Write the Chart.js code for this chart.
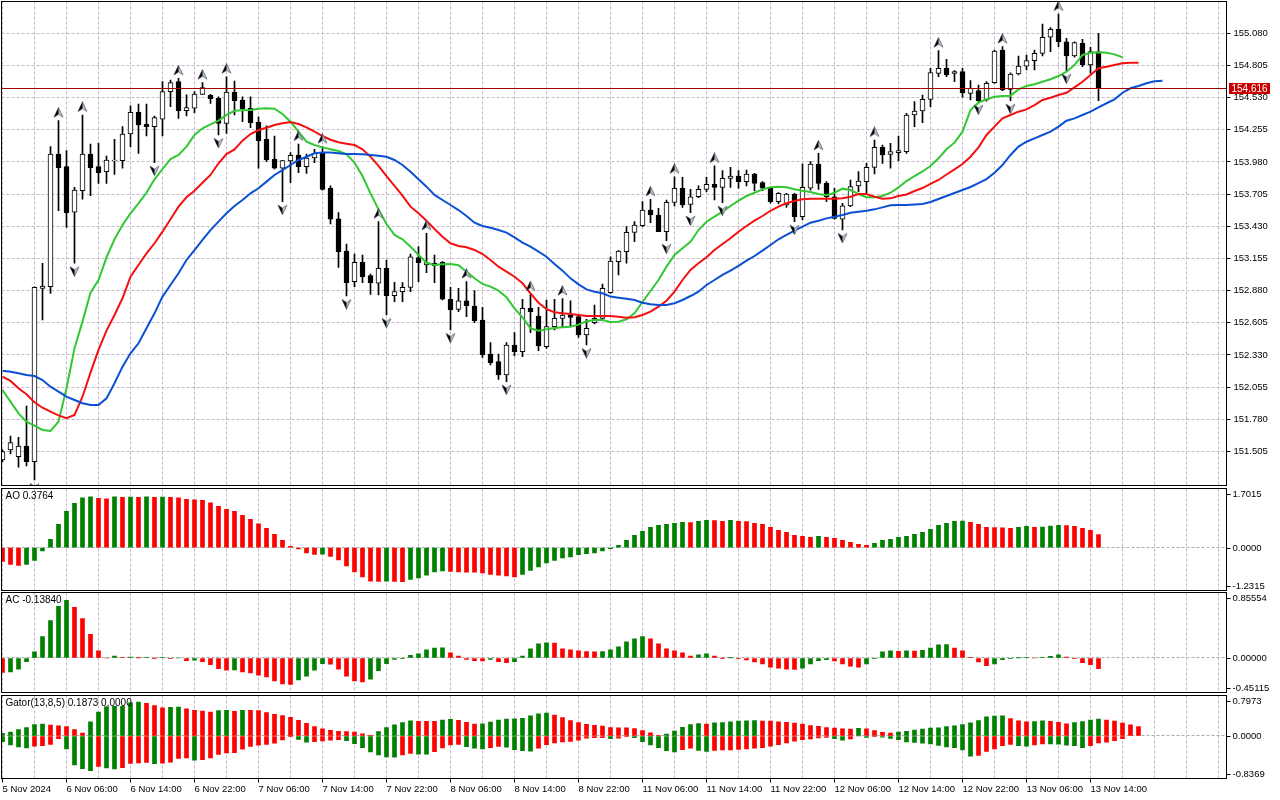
<!DOCTYPE html>
<html>
<head>
<meta charset="utf-8">
<script src="https://cdn.jsdelivr.net/npm/chart.js@4.4.1/dist/chart.umd.min.js"></script>
<style>
  html, body { margin: 0; padding: 0; background: #fff; width: 1280px; height: 800px; overflow: hidden; }
  canvas { position: absolute; left: 0; }
</style>
</head>
<body>
<canvas id="mainChart" width="1280" height="487" style="top:0px"></canvas>
<canvas id="aoChart" width="1280" height="104" style="top:487px"></canvas>
<canvas id="acChart" width="1280" height="102" style="top:591px"></canvas>
<canvas id="gatorChart" width="1280" height="107" style="top:693px"></canvas>
<script>
// H1 candles, one value per bar (bar 0 = 5 Nov 22:00)
const opens = [151.432,151.518,151.461,151.552,151.418,152.900,152.914,154.048,153.940,153.550,
153.735,154.048,153.940,153.897,153.991,153.991,154.219,154.404,154.305,154.282,
154.345,154.581,154.667,154.419,154.439,154.558,154.550,154.524,154.310,154.575,
154.510,154.439,154.319,154.174,154.003,153.926,153.988,154.040,153.940,154.014,
154.060,153.755,153.493,153.219,152.957,153.122,153.008,152.943,153.071,152.837,
152.871,152.908,153.162,153.099,153.094,153.122,152.806,152.720,152.792,152.749,
152.629,152.338,152.273,152.159,152.415,152.358,152.729,152.663,152.401,152.572,
152.643,152.672,152.658,152.501,152.606,152.643,152.863,153.128,153.213,153.378,
153.436,153.569,153.527,153.384,153.635,153.755,153.618,153.683,153.746,153.789,
153.763,153.840,153.860,153.812,153.877,153.803,153.755,153.641,153.612,153.706,
153.512,153.755,153.963,153.797,153.683,153.490,153.604,153.775,153.812,153.934,
154.105,154.045,154.060,154.068,154.382,154.416,154.515,154.738,154.781,154.738,
154.752,154.567,154.590,154.510,154.658,154.937,154.601,154.732,154.800,154.846,
154.909,155.046,155.114,155.008,154.886,154.994,154.809,154.923];
const highs = [151.518,151.637,151.626,151.894,152.912,153.114,154.111,154.333,154.077,153.763,
154.382,154.134,154.140,154.031,154.174,154.282,154.459,154.476,154.476,154.373,
154.667,154.681,154.695,154.553,154.581,154.658,154.558,154.538,154.709,154.672,
154.538,154.538,154.367,154.288,154.202,153.995,154.060,154.134,154.048,154.088,
154.111,153.775,153.547,153.279,153.193,153.185,153.022,153.470,153.142,152.951,
152.948,153.193,153.256,153.370,153.185,153.128,152.908,152.900,152.957,152.880,
152.737,152.435,152.338,152.435,152.521,152.806,152.851,152.737,152.800,152.806,
152.812,152.792,152.672,152.635,152.757,152.937,153.170,153.222,153.427,153.470,
153.641,153.661,153.584,153.655,153.854,153.849,153.746,153.775,153.849,153.946,
153.906,153.935,153.906,153.911,153.883,153.812,153.763,153.718,153.712,153.712,
153.963,153.983,154.054,153.812,153.755,153.627,153.826,153.897,153.968,154.168,
154.125,154.139,154.202,154.396,154.496,154.552,154.781,154.932,154.857,154.761,
154.781,154.675,154.638,154.667,154.937,154.966,154.743,154.886,154.894,154.937,
155.160,155.128,155.245,155.037,155.008,155.028,154.960,155.080];
const lows = [151.418,151.484,151.370,151.381,151.261,152.629,152.857,153.564,153.421,153.114,
153.661,153.692,153.797,153.797,153.874,153.926,154.111,154.054,154.202,153.974,
154.202,154.453,154.353,154.373,154.402,154.558,154.481,154.211,154.225,154.382,
154.325,154.273,153.926,153.983,153.920,153.641,153.803,153.889,153.883,153.974,
153.740,153.450,153.079,152.834,152.914,152.948,152.848,152.843,152.672,152.786,
152.786,152.871,152.957,153.034,152.948,152.800,152.544,152.700,152.658,152.606,
152.310,152.244,152.122,152.102,152.321,152.316,152.521,152.367,152.387,152.544,
152.572,152.572,152.481,152.415,152.595,152.629,152.857,153.014,153.114,153.299,
153.427,153.461,153.384,153.307,153.604,153.592,153.547,153.675,153.726,153.655,
153.632,153.763,153.755,153.775,153.735,153.735,153.627,153.621,153.592,153.470,
153.484,153.740,153.746,153.641,153.490,153.399,153.598,153.726,153.712,153.877,
153.968,153.926,153.991,154.054,154.282,154.316,154.453,154.709,154.709,154.667,
154.533,154.510,154.496,154.500,154.652,154.590,154.504,154.724,154.766,154.766,
154.886,154.923,154.966,154.761,154.875,154.795,154.738,154.504];
const closes = [151.504,151.580,151.552,151.418,152.908,152.920,154.048,153.931,153.547,153.740,
154.048,153.931,153.889,153.997,153.997,154.219,154.404,154.296,154.282,154.359,
154.581,154.658,154.419,154.444,154.561,154.615,154.521,154.310,154.578,154.504,
154.436,154.316,154.162,153.997,153.926,153.991,154.037,153.940,154.014,154.054,
153.746,153.490,153.213,152.948,153.122,153.000,152.948,153.071,152.837,152.871,
152.908,153.170,153.119,153.119,153.114,152.806,152.715,152.792,152.752,152.623,
152.330,152.264,152.159,152.415,152.358,152.729,152.700,152.407,152.572,152.643,
152.672,152.652,152.501,152.558,152.643,152.900,153.133,153.219,153.378,153.441,
153.569,153.527,153.384,153.635,153.755,153.612,153.683,153.746,153.789,153.763,
153.840,153.860,153.812,153.877,153.797,153.755,153.641,153.712,153.706,153.512,
153.763,153.963,153.797,153.683,153.498,153.604,153.769,153.817,153.934,154.105,
154.040,154.068,154.077,154.382,154.416,154.515,154.744,154.781,154.724,154.752,
154.573,154.610,154.504,154.652,154.929,154.595,154.732,154.800,154.846,154.909,
155.046,155.114,155.008,154.886,155.000,154.809,154.923,154.616];

// Alligator lines (already shifted forward: jaw +8, teeth +5, lips +3 bars)
const jaw = [152.196,152.187,152.173,152.159,152.150,152.116,152.059,152.016,151.974,151.945,
151.917,151.902,151.902,151.959,152.088,152.230,152.344,152.430,152.558,152.686,
152.829,152.928,153.028,153.142,153.227,153.313,153.398,153.470,153.541,153.604,
153.655,153.712,153.755,153.812,153.869,153.911,153.954,153.997,154.025,154.054,
154.060,154.060,154.054,154.048,154.048,154.045,154.040,154.034,154.025,153.997,
153.954,153.897,153.832,153.769,153.698,153.655,153.612,153.569,153.518,153.461,
153.433,153.418,153.398,153.376,153.336,153.290,153.256,153.213,153.170,153.108,
153.051,152.985,152.934,152.891,152.871,152.857,152.829,152.820,152.811,152.800,
152.777,152.763,152.757,152.757,152.772,152.800,152.834,152.871,152.928,152.971,
153.014,153.051,153.091,153.136,153.176,153.222,153.270,153.319,153.356,153.393,
153.427,153.461,153.478,153.498,153.512,153.527,153.546,153.555,153.563,153.575,
153.592,153.610,153.612,153.612,153.616,153.621,153.638,153.663,153.689,153.715,
153.740,153.766,153.800,153.834,153.888,153.954,154.040,154.111,154.153,154.182,
154.211,154.239,154.282,154.333,154.353,154.382,154.410,154.447,154.482,154.516,
154.572,154.610,154.630,154.653,154.670,154.675];
const teeth = [152.144,152.108,152.045,151.994,151.926,151.879,151.845,151.814,151.789,151.817,
151.973,152.179,152.373,152.538,152.672,152.815,152.999,153.099,153.199,153.285,
153.384,153.490,153.598,153.678,153.734,153.803,153.869,153.969,154.048,154.088,
154.162,154.219,154.253,154.273,154.296,154.311,154.322,154.305,154.276,154.239,
154.202,154.170,154.148,154.136,154.125,154.088,154.025,153.946,153.860,153.775,
153.692,153.598,153.541,153.478,153.407,153.341,153.285,153.262,153.251,153.228,
153.193,153.142,153.085,153.042,152.999,152.943,152.857,152.777,152.721,152.695,
152.686,152.680,152.672,152.663,152.663,152.663,152.663,152.657,152.649,152.652,
152.672,152.700,152.743,152.794,152.871,152.971,153.057,153.114,153.165,153.228,
153.279,153.328,153.384,153.433,153.478,153.518,153.563,153.598,153.627,153.646,
153.661,153.666,153.666,153.666,153.666,153.669,153.683,153.706,153.706,153.683,
153.666,153.669,153.689,153.702,153.732,153.757,153.792,153.826,153.873,153.917,
153.963,154.025,154.105,154.211,154.282,154.353,154.382,154.410,154.430,154.467,
154.510,154.529,154.553,154.572,154.618,154.666,154.723,154.781,154.794,154.809,
154.824,154.829,154.829];
const lips = [152.031,151.931,151.831,151.760,151.726,151.689,151.680,151.760,152.045,152.387,
152.615,152.862,152.971,153.165,153.319,153.441,153.541,153.627,153.717,153.832,
153.920,154.005,154.040,154.111,154.211,154.268,154.302,154.333,154.382,154.418,
154.422,154.424,154.435,154.439,154.435,154.390,154.324,154.239,154.153,154.125,
154.105,154.088,154.074,154.046,153.974,153.860,153.712,153.575,153.450,153.356,
153.319,153.256,153.185,153.119,153.099,153.105,153.108,153.097,153.042,152.986,
152.937,152.914,152.880,152.823,152.729,152.652,152.558,152.538,152.550,152.561,
152.567,152.572,152.589,152.618,152.629,152.629,152.612,152.615,152.635,152.686,
152.783,152.877,152.971,153.085,153.185,153.242,153.298,153.398,153.469,153.512,
153.555,153.604,153.649,153.689,153.717,153.746,153.763,153.769,153.763,153.746,
153.734,153.723,153.706,153.695,153.717,153.752,153.740,153.706,153.678,153.678,
153.689,153.717,153.763,153.817,153.860,153.899,153.946,154.011,154.088,154.145,
154.239,154.424,154.487,154.516,154.538,154.544,154.547,154.601,154.630,154.644,
154.666,154.687,154.715,154.752,154.809,154.895,154.914,154.918,154.914,154.900,
154.875];

// Bill Williams fractals (bar numbers)
const fractalUp = [7,10,22,25,28,37,40,47,53,58,66,70,81,84,89,102,109,117,125,132];
const fractalDown = [4,9,19,27,35,43,48,56,63,73,83,86,90,99,105,122,126,133];

// Awesome Oscillator
const ao = [-0.392,-0.479,-0.507,-0.479,-0.364,-0.096,0.240,0.670,1.044,1.273,
1.436,1.465,1.417,1.408,1.465,1.446,1.455,1.446,1.465,1.446,
1.455,1.446,1.436,1.389,1.379,1.359,1.293,1.188,1.102,1.044,
0.929,0.814,0.689,0.556,0.383,0.210,0.038,-0.038,-0.154,-0.191,
-0.185,-0.249,-0.355,-0.527,-0.699,-0.843,-0.962,-0.972,-0.965,-0.969,
-0.975,-0.910,-0.871,-0.794,-0.699,-0.670,-0.680,-0.699,-0.703,-0.708,
-0.728,-0.766,-0.794,-0.814,-0.843,-0.766,-0.651,-0.556,-0.441,-0.364,
-0.297,-0.268,-0.201,-0.173,-0.154,-0.096,-0.028,0.067,0.210,0.355,
0.469,0.584,0.642,0.670,0.699,0.728,0.720,0.757,0.785,0.779,
0.757,0.785,0.757,0.751,0.699,0.670,0.584,0.498,0.441,0.355,
0.325,0.297,0.325,0.297,0.268,0.210,0.154,0.096,0.067,0.124,
0.210,0.240,0.297,0.325,0.383,0.441,0.527,0.642,0.699,0.757,
0.763,0.728,0.670,0.584,0.578,0.573,0.556,0.584,0.612,0.584,
0.593,0.623,0.642,0.637,0.612,0.556,0.498,0.3764];

// Accelerator Oscillator
const ac = [-0.190,-0.181,-0.145,-0.048,0.079,0.278,0.489,0.674,0.753,0.661,
0.515,0.308,0.093,0.000,0.026,0.005,0.013,0.002,0.010,-0.003,
0.003,-0.004,0.000,-0.035,-0.030,-0.048,-0.088,-0.141,-0.159,-0.155,
-0.181,-0.194,-0.225,-0.247,-0.300,-0.339,-0.344,-0.286,-0.238,-0.159,
-0.075,-0.080,-0.145,-0.238,-0.300,-0.313,-0.278,-0.167,-0.075,-0.018,
-0.004,0.035,0.053,0.106,0.128,0.132,0.066,0.026,-0.018,-0.035,
-0.040,-0.018,-0.048,-0.062,-0.048,0.026,0.119,0.185,0.198,0.194,
0.119,0.106,0.093,0.084,0.079,0.082,0.106,0.145,0.211,0.251,
0.278,0.251,0.185,0.119,0.093,0.066,0.026,0.040,0.053,0.026,
-0.003,0.002,-0.009,-0.026,-0.053,-0.079,-0.119,-0.132,-0.145,-0.150,
-0.132,-0.079,-0.035,-0.022,-0.040,-0.079,-0.106,-0.119,-0.079,-0.009,
0.079,0.093,0.088,0.093,0.090,0.101,0.128,0.172,0.176,0.128,
0.093,0.009,-0.053,-0.101,-0.079,-0.022,-0.009,0.002,0.009,0.000,
0.009,0.022,0.040,0.013,-0.004,-0.062,-0.088,-0.1384];

// Gator Oscillator (upper = jaw/teeth gap, lower = teeth/lips gap)
const gatorUp = [0.052,0.079,0.128,0.165,0.224,0.237,0.214,0.202,0.185,0.128,
0.056,0.277,0.471,0.579,0.584,0.585,0.655,0.669,0.641,0.599,
0.555,0.562,0.570,0.536,0.507,0.490,0.471,0.499,0.507,0.484,
0.507,0.507,0.498,0.461,0.427,0.400,0.368,0.308,0.251,0.185,
0.142,0.110,0.094,0.088,0.077,0.043,0.015,0.088,0.165,0.222,
0.262,0.299,0.291,0.291,0.291,0.314,0.327,0.307,0.267,0.233,
0.240,0.276,0.313,0.334,0.337,0.347,0.399,0.436,0.449,0.413,
0.365,0.305,0.262,0.228,0.208,0.194,0.166,0.163,0.162,0.148,
0.105,0.063,0.014,0.037,0.099,0.171,0.223,0.243,0.237,0.257,
0.265,0.277,0.293,0.297,0.302,0.296,0.293,0.279,0.271,0.253,
0.234,0.205,0.188,0.168,0.154,0.142,0.137,0.151,0.143,0.108,
0.074,0.059,0.077,0.090,0.116,0.136,0.154,0.163,0.184,0.202,
0.223,0.259,0.305,0.377,0.394,0.399,0.342,0.299,0.277,0.285,
0.299,0.290,0.271,0.239,0.265,0.284,0.313,0.334,0.312,0.293,
0.252,0.219,0.1873];
const gatorDown = [-0.113,-0.177,-0.214,-0.234,-0.200,-0.190,-0.165,-0.054,-0.256,-0.570,
-0.642,-0.683,-0.598,-0.627,-0.647,-0.626,-0.542,-0.528,-0.518,-0.547,
-0.536,-0.515,-0.442,-0.433,-0.477,-0.465,-0.433,-0.364,-0.334,-0.330,
-0.260,-0.205,-0.182,-0.166,-0.139,-0.079,-0.002,-0.066,-0.123,-0.114,
-0.097,-0.082,-0.074,-0.090,-0.151,-0.228,-0.313,-0.371,-0.410,-0.419,
-0.373,-0.342,-0.356,-0.359,-0.308,-0.236,-0.177,-0.165,-0.209,-0.242,
-0.256,-0.228,-0.205,-0.219,-0.270,-0.291,-0.299,-0.239,-0.171,-0.134,
-0.119,-0.108,-0.083,-0.045,-0.034,-0.034,-0.051,-0.042,-0.014,-0.034,
-0.111,-0.177,-0.228,-0.291,-0.314,-0.271,-0.241,-0.284,-0.304,-0.284,
-0.276,-0.276,-0.265,-0.256,-0.239,-0.228,-0.200,-0.171,-0.136,-0.100,
-0.073,-0.057,-0.040,-0.029,-0.051,-0.083,-0.057,0.000,-0.028,-0.005,
-0.023,-0.048,-0.074,-0.115,-0.128,-0.142,-0.154,-0.185,-0.215,-0.228,
-0.276,-0.399,-0.382,-0.305,-0.256,-0.191,-0.165,-0.191,-0.200,-0.177,
-0.156,-0.158,-0.162,-0.180,-0.191,-0.229,-0.191,-0.137,-0.120,-0.091,
-0.051];

// Axis labels
const timeLabels = ['5 Nov 2024','6 Nov 06:00','6 Nov 14:00','6 Nov 22:00','7 Nov 06:00','7 Nov 14:00',
  '7 Nov 22:00','8 Nov 06:00','8 Nov 14:00','8 Nov 22:00','11 Nov 06:00','11 Nov 14:00',
  '11 Nov 22:00','12 Nov 06:00','12 Nov 14:00','12 Nov 22:00','13 Nov 06:00','13 Nov 14:00'];
const priceTicks = [151.505,151.780,152.055,152.330,152.605,152.880,153.155,153.430,153.705,153.980,154.255,154.530,154.805,155.080];
const aoRange = [-1.2315, 1.7015];
const acRange = [-0.45115, 0.85554];
const gatorRange = [-0.8369, 0.7973];

const GREEN = '#008000';
const RED = '#ff0000';
const GRID = '#c4b8c8';
const FONT = 'Liberation Sans';

Chart.defaults.font.family = FONT;

const xy = arr => arr.map((v, i) => ({ x: i, y: v }));

// green when the bar grows compared to the previous one
function growColors(arr, first, useAbs) {
  return arr.map((v, i) => {
    if (i === 0) return first;
    const a = useAbs ? Math.abs(v) : v;
    const b = useAbs ? Math.abs(arr[i - 1]) : arr[i - 1];
    return a > b ? GREEN : RED;
  });
}

// no label padding, the panes must line up to the pixel
function noPad(s) {
  s.paddingTop = 0; s.paddingBottom = 0; s.paddingLeft = 0; s.paddingRight = 0;
}

// shared time axis, one grid line every 4 bars, one label every 8
function timeAxis(showLabels) {
  return {
    type: 'linear', min: -0.125, max: 153, offset: false,
    afterBuildTicks: s => { const t = []; for (let v = 0; v <= 152; v += 4) t.push({ value: v }); s.ticks = t; },
    afterFit: s => { s.height = showLabels ? 21.5 : 0; noPad(s); },
    grid: {
      color: GRID, offset: false, drawTicks: showLabels, tickLength: 4,
      tickColor: c => (c.tick && c.tick.value % 8 === 0 && c.tick.value <= 136) ? '#000' : 'rgba(0,0,0,0)'
    },
    border: { display: false, dash: [3, 2] },
    ticks: {
      display: showLabels, autoSkip: false, maxRotation: 0, minRotation: 0, align: 'start', padding: 1,
      color: '#000', font: { family: FONT, size: 9.5 },
      callback: v => (v % 8 === 0 && timeLabels[v / 8]) ? timeLabels[v / 8] : ''
    }
  };
}

function subAxis(range) {
  return {
    position: 'right', min: range[0], max: range[1],
    afterBuildTicks: s => { s.ticks = [{ value: 0 }]; },
    afterFit: s => { s.width = 53.5; noPad(s); },
    grid: { color: '#a8b0ac', drawTicks: false },
    border: { display: false, dash: [3, 2] },
    ticks: { display: false }
  };
}

// frame, title and side labels of every pane
const paneDecor = {
  id: 'paneDecor',
  afterDraw(chart, args, opts) {
    const { ctx, chartArea: a } = chart;
    ctx.save();
    ctx.strokeStyle = '#000';
    ctx.lineWidth = 1;
    ctx.strokeRect(a.left, a.top, a.right - a.left, a.bottom - a.top);
    ctx.fillStyle = '#000';
    ctx.textBaseline = 'middle';
    ctx.textAlign = 'left';
    if (opts.title) {
      ctx.font = '10px "' + FONT + '"';
      ctx.fillText(opts.title, a.left + 4, a.top + 8);
    }
    if (opts.scaleLabels) {
      ctx.font = '9.5px "' + FONT + '"';
      const ys = [a.top + 5, chart.scales.y.getPixelForValue(0), a.bottom - 5];
      opts.scaleLabels.forEach((t, k) => {
        const y = Math.round(ys[k]) + 0.5;
        ctx.beginPath();
        ctx.moveTo(a.right, y);
        ctx.lineTo(a.right + 4, y);
        ctx.stroke();
        ctx.fillText(t, a.right + 6, y);
      });
    }
    ctx.restore();
  }
};

// last price line with the red price tag
const priceLine = {
  id: 'priceLine',
  afterDraw(chart) {
    const { ctx, chartArea: a } = chart;
    const last = closes[closes.length - 1];
    const y = Math.round(chart.scales.y.getPixelForValue(last)) + 0.5;
    ctx.save();
    ctx.strokeStyle = '#a00000';
    ctx.lineWidth = 1;
    ctx.beginPath();
    ctx.moveTo(a.left, y);
    ctx.lineTo(a.right, y);
    ctx.stroke();
    ctx.fillStyle = '#cc0000';
    ctx.fillRect(a.right + 2.5, y - 5.5, 41, 11);
    ctx.fillStyle = '#fff';
    ctx.font = '10px "' + FONT + '"';
    ctx.textBaseline = 'middle';
    ctx.fillText(last.toFixed(3), a.right + 5, y + 0.5);
    ctx.restore();
  }
};

// fractal arrow, drawn off-centre so it sits above the high / below the low
function fractalMark(up) {
  const c = document.createElement('canvas');
  c.width = 11;
  c.height = 27;
  const g = c.getContext('2d');
  const cx = 5.5, cy = up ? 5.5 : 21.5, d = up ? 1 : -1;
  g.beginPath();
  g.moveTo(cx, cy - 5 * d);
  g.lineTo(cx + 4.5, cy + 4.5 * d);
  g.lineTo(cx, cy + 1.5 * d);
  g.lineTo(cx - 4.5, cy + 4.5 * d);
  g.closePath();
  g.fillStyle = '#b8c4d0';
  g.fill();
  g.strokeStyle = '#5a6470';
  g.lineWidth = 0.8;
  g.stroke();
  g.beginPath();
  g.moveTo(cx, cy - 5 * d);
  g.lineTo(cx, cy + 1.5 * d);
  g.lineTo(cx - 4.5, cy + 4.5 * d);
  g.closePath();
  g.fillStyle = '#000';
  g.fill();
  return c;
}

const baseOptions = {
  responsive: false,
  animation: false,
  devicePixelRatio: 1,
  events: [],
  plugins: { legend: { display: false }, tooltip: { enabled: false } }
};

// Main price pane
const ctx1 = document.getElementById('mainChart').getContext('2d');
const mainChart = new Chart(ctx1, {
  type: 'line',
  data: {
    datasets: [{
      type: 'line', data: fractalUp.map(i => ({ x: i, y: highs[i] })), showLine: false,
      pointStyle: fractalMark(true), pointRadius: 5, order: 0
    }, {
      type: 'line', data: fractalDown.map(i => ({ x: i, y: lows[i] })), showLine: false,
      pointStyle: fractalMark(false), pointRadius: 5, order: 0
    }, {
      type: 'line', data: xy(jaw), borderColor: '#0a50d4', borderWidth: 2, pointRadius: 0, order: 1
    }, {
      type: 'line', data: xy(teeth), borderColor: '#f41010', borderWidth: 2, pointRadius: 0, order: 1
    }, {
      type: 'line', data: xy(lips), borderColor: '#32c832', borderWidth: 2, pointRadius: 0, order: 1
    }, {
      type: 'bar', data: opens.map((o, i) => ({ x: i, y: [o, closes[i]] })),
      backgroundColor: closes.map((c, i) => c >= opens[i] ? '#fff' : '#000'),
      borderColor: '#000', borderWidth: 1, borderSkipped: false, barThickness: 5, grouped: false, order: 2
    }, {
      type: 'bar', data: highs.map((h, i) => ({ x: i, y: [lows[i], h] })),
      backgroundColor: '#000', borderWidth: 0, barThickness: 1, grouped: false, order: 3
    }]
  },
  options: {
    ...baseOptions,
    layout: { autoPadding: false, padding: { left: 1.5, top: 1.5, right: 0, bottom: 1.5 } },
    scales: {
      x: timeAxis(false),
      y: {
        position: 'right', min: 151.214, max: 155.352,
        afterBuildTicks: s => { s.ticks = priceTicks.map(v => ({ value: v })); },
        afterFit: s => { s.width = 53.5; noPad(s); },
        grid: { color: GRID, tickLength: 4, tickColor: '#000' },
        border: { display: false, dash: [3, 2] },
        ticks: { color: '#000', padding: 3, font: { family: FONT, size: 9.5 }, callback: v => v.toFixed(3) }
      }
    },
    plugins: { ...baseOptions.plugins, paneDecor: {} }
  },
  plugins: [paneDecor, priceLine]
});

// AO pane
const ctx2 = document.getElementById('aoChart').getContext('2d');
const aoChart = new Chart(ctx2, {
  type: 'bar',
  data: {
    datasets: [{
      data: xy(ao), backgroundColor: growColors(ao, RED, false), barThickness: 4, grouped: false
    }]
  },
  options: {
    ...baseOptions,
    layout: { autoPadding: false, padding: { left: 1.5, top: 1.5, right: 0, bottom: 0.5 } },
    scales: { x: timeAxis(false), y: subAxis(aoRange) },
    plugins: {
      ...baseOptions.plugins,
      paneDecor: { title: 'AO ' + ao[ao.length - 1].toFixed(4), scaleLabels: ['1.7015', '0.0000', '-1.2315'] }
    }
  },
  plugins: [paneDecor]
});

// AC pane
const ctx3 = document.getElementById('acChart').getContext('2d');
const acChart = new Chart(ctx3, {
  type: 'bar',
  data: {
    datasets: [{
      data: xy(ac), backgroundColor: growColors(ac, RED, false), barThickness: 4, grouped: false
    }]
  },
  options: {
    ...baseOptions,
    layout: { autoPadding: false, padding: { left: 1.5, top: 1.5, right: 0, bottom: 0.5 } },
    scales: { x: timeAxis(false), y: subAxis(acRange) },
    plugins: {
      ...baseOptions.plugins,
      paneDecor: { title: 'AC ' + ac[ac.length - 1].toFixed(5), scaleLabels: ['0.85554', '0.00000', '-0.45115'] }
    }
  },
  plugins: [paneDecor]
});

// Gator pane with the time axis
const ctx4 = document.getElementById('gatorChart').getContext('2d');
const gatorChart = new Chart(ctx4, {
  type: 'bar',
  data: {
    datasets: [{
      data: xy(gatorUp), backgroundColor: growColors(gatorUp, GREEN, true), barThickness: 4, grouped: false
    }, {
      data: xy(gatorDown), backgroundColor: growColors(gatorDown, GREEN, true), barThickness: 4, grouped: false
    }]
  },
  options: {
    ...baseOptions,
    layout: { autoPadding: false, padding: { left: 1.5, top: 2.5, right: 0, bottom: 0 } },
    scales: { x: timeAxis(true), y: subAxis(gatorRange) },
    plugins: {
      ...baseOptions.plugins,
      paneDecor: {
        title: 'Gator(13,8,5) ' + gatorUp[gatorUp.length - 1].toFixed(4) + ' 0.0000',
        scaleLabels: ['0.7973', '0.0000', '-0.8369']
      }
    }
  },
  plugins: [paneDecor]
});
</script>
</body>
</html>
